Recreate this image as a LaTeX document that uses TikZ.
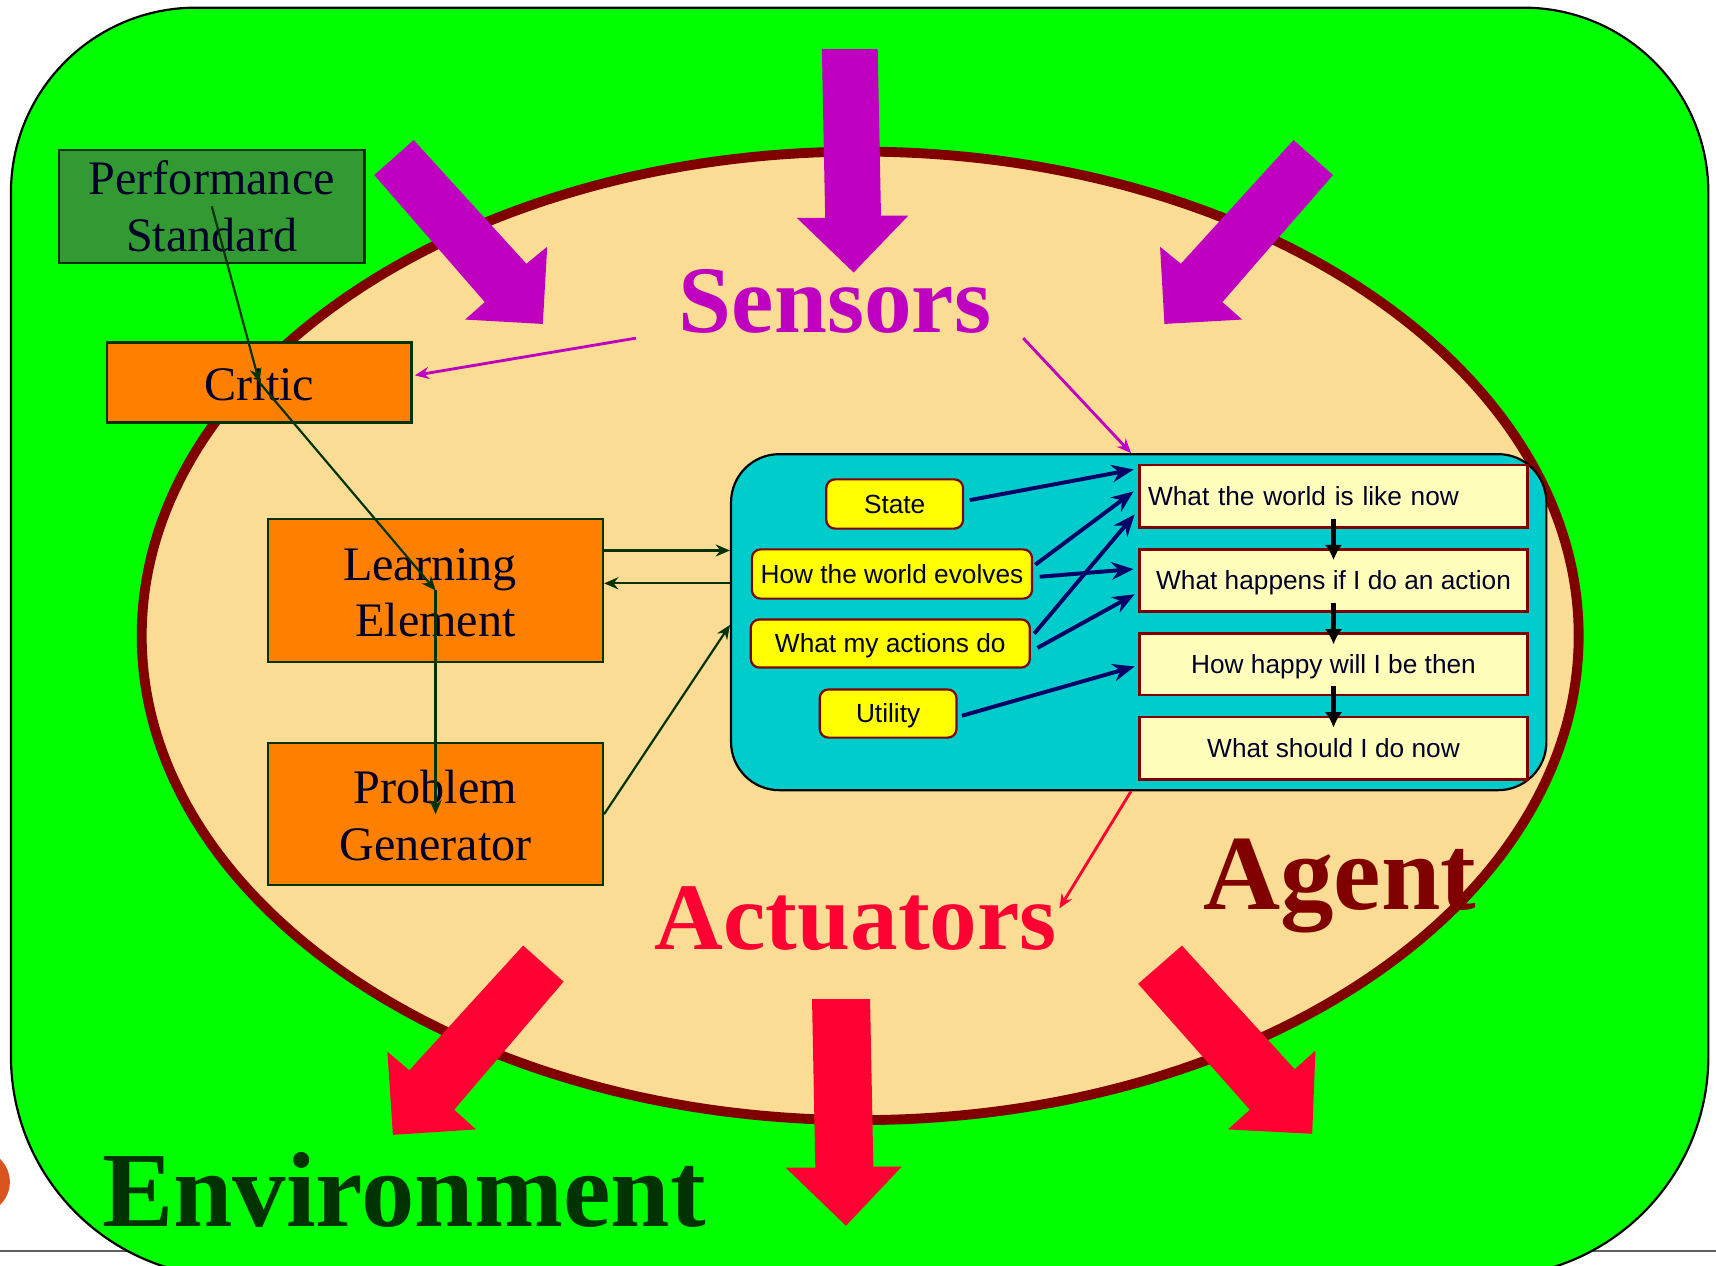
\documentclass[tikz,border=0pt]{standalone}
\usepackage{fontspec}
\setmainfont{Liberation Serif}
\setsansfont{Liberation Sans}
\usetikzlibrary{arrows.meta,calc}
\definecolor{envgreen}{HTML}{00FF00}
\definecolor{agentfill}{HTML}{FBDC94}
\definecolor{agentred}{HTML}{800000}
\definecolor{sensmag}{HTML}{C000C0}
\definecolor{actred}{HTML}{FF0033}
\definecolor{corecyan}{HTML}{00CCCC}
\definecolor{ylw}{HTML}{FFFF00}
\definecolor{lightylw}{HTML}{FFFFBB}
\definecolor{orng}{HTML}{FF8000}
\definecolor{psgreen}{HTML}{339933}
\definecolor{dkgreen}{HTML}{003300}
\definecolor{navyblue}{HTML}{000066}
\definecolor{inktext}{HTML}{000028}
\definecolor{slideorange}{HTML}{D9541E}
\definecolor{rulegray}{HTML}{606060}
\tikzset{
  serifbox/.style={draw=dkgreen, line width=1pt, inner sep=0pt},
  orangebox/.style={serifbox, fill=orng},
  seriftext/.style={inner sep=0pt, anchor=base, text=inktext, font=\fontsize{22pt}{26pt}\selectfont},
  ybox/.style={draw=agentred, line width=1pt, fill=ylw, rounded corners=4pt, inner sep=0pt,
    font=\sffamily\fontsize{12pt}{14pt}\selectfont, text=inktext, text height=8.6pt, text depth=0pt},
  qbox/.style={draw=agentred, line width=1.2pt, fill=lightylw, inner sep=0pt,
    minimum width=177.5pt, minimum height=28.5pt,
    font=\sffamily\fontsize{12pt}{14pt}\selectfont, text=inktext, text height=8.6pt, text depth=0pt},
  bigtext/.style={font=\bfseries\fontsize{43.5pt}{50pt}\selectfont, inner sep=0pt, anchor=base west},
  hugetext/.style={font=\bfseries\fontsize{48.8pt}{56pt}\selectfont, inner sep=0pt, anchor=base west},
  navyarrow/.style={draw=navyblue, line width=1.8pt, -{Stealth[length=10pt,width=8pt]}},
  darrow/.style={draw=dkgreen, line width=1pt, -{Stealth[length=6.5pt,width=5.5pt]}},
  blkarrow/.style={draw=black, line width=2pt, -{Latex[length=7pt,width=8pt]}},
  thinmag/.style={draw=sensmag, line width=1.3pt, -{Stealth[length=6.5pt,width=5.5pt]}},
  thinred/.style={draw=actred, line width=1.3pt, -{Stealth[length=6.5pt,width=5.5pt]}},
}
\begin{document}
\begin{tikzpicture}[x=0.5pt, y=-0.5pt]
\useasboundingbox (0,0) rectangle (1568,1156);
\clip (0,0) rectangle (1568,1156);
\fill[white] (0,0) rectangle (1568,1156);
% slide remnants
\draw[rulegray, line width=0.9pt] (0,1143) -- (1568,1143);
\fill[slideorange] (-20,1080) circle [radius=29];
% environment
\draw[fill=envgreen, line width=1pt] (10,176) -- (10,965)
  arc[start angle=180, end angle=90, radius=202] -- (1359,1167)
  arc[start angle=90, end angle=0, radius=202] -- (1561,176)
  arc[start angle=0, end angle=-90, radius=169] -- (179,7)
  arc[start angle=-90, end angle=-180, radius=169] -- cycle;
% agent
\draw[agentred, line width=4.5pt, fill=agentfill] (786,581) ellipse [x radius=656.5, y radius=442.5];
% sensor arrows
\fill[sensmag] (342,160) -- (378,128) -- (481,241) -- (500,225.5) -- (496,296) -- (425,292) -- (443,276) -- cycle;
\fill[sensmag] (1218,160) -- (1182,128) -- (1079,241) -- (1060,225.5) -- (1064,296) -- (1135,292) -- (1117,276) -- cycle;
\fill[sensmag] (751,45) -- (802,45) -- (805,197) -- (830,197) -- (780,249) -- (728,199) -- (754,199) -- cycle;
% actuator arrows
\fill[actred] (478,864) -- (515,897) -- (415,1014) -- (435,1032) -- (359,1037) -- (354,961) -- (374,978) -- cycle;
\fill[actred] (742,913) -- (795,913) -- (798,1066) -- (824,1066) -- (773,1120) -- (718,1067) -- (745,1067) -- cycle;
\fill[actred] (1040,899) -- (1080,864) -- (1183,977) -- (1202,960) -- (1199,1036) -- (1122,1032) -- (1142,1014) -- cycle;
% learning agent boxes
\node[serifbox, fill=psgreen, minimum width=139.5pt, minimum height=51.5pt] (ps) at (193.5,188.5) {};
\node[orangebox, minimum width=139pt, minimum height=36.5pt] (critic) at (237,349.5) {};
\node[orangebox, minimum width=153pt, minimum height=65.5pt] (le) at (398,539.5) {};
\node[orangebox, minimum width=153pt, minimum height=65pt] (pg) at (398,744) {};
\node[seriftext] (ps1) at ($(ps.center)+(0,-10.5)$) {Performance};
\node[seriftext] (ps2) at ($(ps.center)+(0,41.5)$) {Standard};
\node[seriftext] (cr1) at ($(critic.center)+(0,16.5)$) {Critic};
\node[seriftext] (le1t) at ($(le.center)+(-5,-9.5)$) {Learning};
\node[seriftext] (le2t) at ($(le.center)+(0,42.5)$) {Element};
\node[seriftext] (pg1) at ($(pg.center)+(0,-10)$) {Problem};
\node[seriftext] (pg2) at ($(pg.center)+(0,42)$) {Generator};
% performance element
\node[draw=black, line width=1pt, fill=corecyan, rounded corners=22pt, minimum width=372.5pt,
  minimum height=153.5pt, inner sep=0pt] (core) at (1040.5,568.5) {};
\node[ybox, minimum width=62.5pt, minimum height=22.5pt] (state) at (817.5,460.5) {State};
\node[ybox, minimum width=128pt, minimum height=22.5pt] (evolves) at (815,524.5) {How the world evolves};
\node[ybox, minimum width=127.5pt, minimum height=22pt] (actions) at (813.5,588) {What my actions do};
\node[ybox, minimum width=62.5pt, minimum height=22pt] (utility) at (811.5,652) {Utility};
\node[qbox, text width=169.5pt, inner xsep=4pt, align=left] (w1) at (1218.5,453.5) {What the world is like now};
\node[qbox] (w2) at (1218.5,530.5) {What happens if I do an action};
\node[qbox, minimum height=28pt] (w3) at (1218.5,607) {How happy will I be then};
\node[qbox] (w4) at (1218.5,683.5) {What should I do now};
% labels
\node[bigtext, text=sensmag] (sensors) at (620,304) {Sensors};
\node[bigtext, text=actred] (actuators) at (598,868) {Actuators};
\node[hugetext, text=agentred] (agent) at (1099,831) {Agent};
\node[hugetext, text=dkgreen] (env) at (93,1121) {Environment};
% connectors
\draw[navyarrow] ($(state.east)+(5,-3.5)$) -- ($(w1.west)+(-4,-24.5)$);
\draw[navyarrow] ($(evolves.east)+(2,-8.5)$) -- ($(w1.west)+(-4,-4.5)$);
\draw[navyarrow] ($(evolves.east)+(6,2.5)$) -- ($(w2.west)+(-4,-10.5)$);
\draw[navyarrow] ($(actions.east)+(3,-9)$) -- ($(w1.west)+(-3,16.5)$);
\draw[navyarrow] ($(actions.east)+(6,4)$) -- ($(w2.west)+(-3,12.5)$);
\draw[navyarrow] ($(utility.east)+(4,2)$) -- ($(w3.west)+(-3,2)$);
\draw[blkarrow] ($(w1.south)+(0,-9)$) -- ($(w2.north)+(0,11)$);
\draw[blkarrow] ($(w2.south)+(0,-9)$) -- ($(w3.north)+(0,11)$);
\draw[blkarrow] ($(w3.south)+(0,-9)$) -- ($(w4.north)+(0,11)$);
\draw[darrow] (ps.center) -- (critic.center);
\draw[darrow] (critic.center) -- (le.center);
\draw[darrow] (le.center) -- (pg.center);
\coordinate (lea) at ($(le.east)+(0,-36.5)$);
\coordinate (leb) at ($(le.east)+(0,-6.5)$);
\draw[darrow] (lea) -- (lea -| core.west);
\draw[darrow] (leb -| core.west) -- (leb);
\draw[darrow] (pg.east) -- ($(core.west)+(0,2.5)$);
\draw[thinmag] ($(sensors.base west)+(-39,5)$) -- ($(critic.east)+(2,-6.5)$);
\draw[thinmag] ($(sensors.base east)+(29,5)$) -- ($(core.north)+(-7,0)$);
\draw[thinred] ($(core.south)+(-7,0)$) -- ($(actuators.base east)+(2,-38)$);
\end{tikzpicture}
\end{document}
